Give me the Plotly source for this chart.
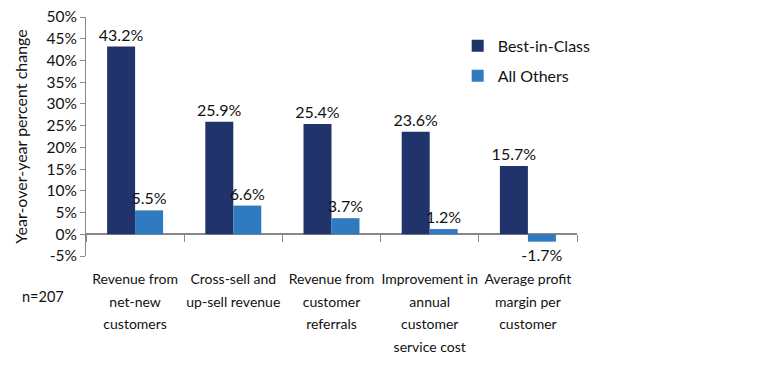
import plotly.graph_objects as go

categories = ["Revenue from<br>net-new<br>customers",
              "Cross-sell and<br>up-sell revenue",
              "Revenue from<br>customer<br>referrals",
              "Improvement in<br>annual<br>customer<br>service cost",
              "Average profit<br>margin per<br>customer"]
best_in_class = [43.2, 25.9, 25.4, 23.6, 15.7]
all_others = [5.5, 6.6, 3.7, 1.2, -1.7]
tick_vals = [-5, 0, 5, 10, 15, 20, 25, 30, 35, 40, 45, 50]
tick_text = [f"{v}%" for v in tick_vals]

FONT = "Lato"
cat_labels = ["<br>".join(f"<span style='font-size:14px'>{ln}</span>" for ln in c.split("<br>"))
              for c in categories]

fig = go.Figure()
fig.add_bar(x=categories, y=best_in_class, name="Best-in-Class", legendgroup="a",
            marker=dict(color="#21336B", line=dict(width=0)),
            text=[f"{v:.1f}%" for v in best_in_class], textposition="outside",
            constraintext="none",
            textfont=dict(size=16, color="#111"), cliponaxis=False)
fig.add_bar(x=categories, y=all_others, name="All Others", legendgroup="b",
            marker=dict(color="#2F7AC0", line=dict(width=0)),
            text=[f"{v:.1f}%" for v in all_others], textposition="outside",
            constraintext="none",
            textfont=dict(size=16, color="#111"), cliponaxis=False)

fig.add_scatter(x=categories, y=[None]*len(categories), xaxis="x2", showlegend=False,
                hoverinfo="skip")

fig.update_layout(
    width=764, height=375,
    margin=dict(l=78, r=195, t=9, b=127, autoexpand=False),
    plot_bgcolor="white", paper_bgcolor="white",
    barmode="group", bargap=0.43, bargroupgap=0,
    font=dict(family=FONT, size=16, color="#111"),
    showlegend=True,
    legend=dict(x=0.757, y=0.95, xanchor="left", yanchor="top",
                font=dict(size=16), bgcolor="rgba(0,0,0,0)",
                itemwidth=30, tracegroupgap=6),
    xaxis=dict(showline=False, ticks="", tickfont=dict(size=17.3), tickangle=0,
               tickvals=categories, ticktext=cat_labels,
               ticklabelstandoff=10,
               showgrid=False, zeroline=False, automargin=False),
    xaxis2=dict(overlaying="x", anchor="free", position=5/55, matches="x",
                tickson="boundaries", ticks="outside", ticklen=7, tickcolor="#888",
                showticklabels=False, showline=False, showgrid=False, zeroline=False,
                automargin=False),
    yaxis=dict(range=[-5, 50], tickvals=tick_vals, ticktext=tick_text,
               showgrid=False, showline=True, linecolor="#888", linewidth=1,
               ticks="outside", tickcolor="#888", ticklen=5, automargin=False,
               ticklabeloverflow="allow",
               zeroline=True, zerolinecolor="#888", zerolinewidth=1.5,
               tickfont=dict(size=15.5),
               title=dict(text="Year-over-year percent change", font=dict(size=16), standoff=14)),
)
fig.add_annotation(text="n=207", xref="paper", yref="paper", x=-0.134, y=-0.17,
                   xanchor="left", yanchor="middle", showarrow=False, font=dict(size=14.5))
fig.write_html("out.html")
